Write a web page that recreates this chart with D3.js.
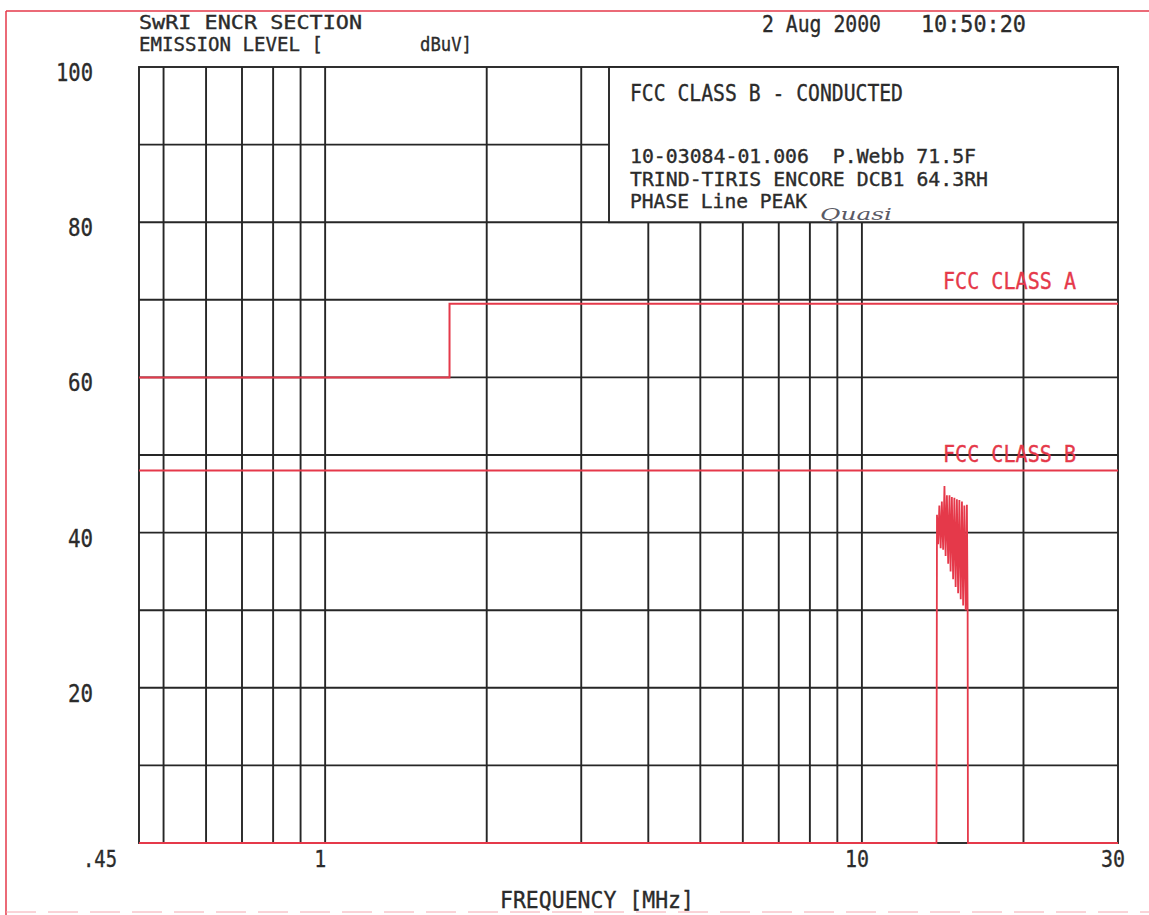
<!DOCTYPE html>
<html lang="en">

<head>
    <meta charset="UTF-8">
    <title>FCC Class B - Conducted</title>
    <script src="https://d3js.org/d3.v7.min.js"></script>
    <style>
        body {
            margin: 0;
            background: white;
        }

        text {
            font-family: "DejaVu Sans Mono", monospace;
            fill: #2b2b2b;
            stroke: #2b2b2b;
            stroke-width: 0.35px;
            white-space: pre;
        }

        .grid {
            stroke: #262626;
            stroke-width: 1.9px;
            fill: none;
        }

        .limit,
        .trace {
            stroke: #e5394a;
            fill: none;
        }

        text.red-label {
            fill: #e5394a;
            stroke: #e5394a;
        }
    </style>
</head>

<body>
    <svg width="1149" height="915"></svg>

    <script>
        // limits + measured trace (MHz / dBuV)
        const gridFreqs = [0.5, 0.6, 0.7, 0.8, 0.9, 1, 2, 3, 4, 5, 6, 7, 8, 9, 10, 20];
        const gridLevels = [10, 20, 30, 40, 50, 60, 70, 80, 90];
        const yTickLabels = [100, 80, 60, 40, 20];
        const xTickFreqs = [0.45, 1, 10, 30];
        const xTickLabels = [".45", "1", "10", "30"];

        const classAFreq = [0.45, 1.705, 1.705, 30];
        const classALevel = [60, 60, 69.5, 69.5];
        const classBFreq = [0.45, 30];
        const classBLevel = [48, 48];

        const traceFreq = [0.45, 13.77, 13.80, 13.87, 13.94, 14.02, 14.09, 14.17, 14.25, 14.32, 14.40, 14.48,
            14.56, 14.63, 14.71, 14.79, 14.87, 14.95, 15.03, 15.11, 15.19, 15.28, 15.36, 15.44, 15.52, 15.61,
            15.69, 15.74, 15.76, 30];
        const traceLevel = [0, 0, 42.3, 38.5, 43.5, 38, 44, 37.8, 46, 37, 44.8, 36, 44.8, 35, 44.6, 34, 44.5,
            33, 44.3, 32.2, 44.2, 31.4, 44, 30.6, 43.5, 30, 43.6, 29.5, 0, 0];

        const infoLines = ["10-03084-01.006  P.Webb 71.5F", "TRIND-TIRIS ENCORE DCB1 64.3RH", "PHASE Line PEAK"];

        const plotLeft = 139, plotRight = 1118, plotTop = 67, plotBottom = 843;
        const svg = d3.select("svg");

        const x = d3.scaleLog().domain([0.45, 30]).range([plotLeft, plotRight]);
        const y = d3.scaleLinear().domain([0, 100]).range([plotBottom, plotTop]);

        // page edge of the scanned sheet
        svg.append("line").attr("x1", 6).attr("y1", 11).attr("x2", 1149).attr("y2", 11)
            .style("stroke", "#e5394a").style("stroke-width", 1.5);
        svg.append("line").attr("x1", 6).attr("y1", 11).attr("x2", 6).attr("y2", 915)
            .style("stroke", "#e5394a").style("stroke-width", 1.5);
        svg.append("line").attr("x1", 6).attr("y1", 912).attr("x2", 1149).attr("y2", 912)
            .style("stroke", "#f4a8b0").style("stroke-width", 1).style("stroke-dasharray", "30 12");

        const grid = svg.append("g");
        grid.selectAll(".v").data(gridFreqs).join("line")
            .attr("class", "grid")
            .attr("x1", d => x(d)).attr("x2", d => x(d))
            .attr("y1", plotTop).attr("y2", plotBottom);
        grid.selectAll(".h").data(gridLevels).join("line")
            .attr("class", "grid")
            .attr("x1", plotLeft).attr("x2", plotRight)
            .attr("y1", d => y(d)).attr("y2", d => y(d));
        grid.append("rect")
            .attr("class", "grid")
            .attr("x", plotLeft).attr("y", plotTop)
            .attr("width", plotRight - plotLeft).attr("height", plotBottom - plotTop);

        // info box sits on top of the grid, white filled
        const boxX = 609;
        svg.append("rect")
            .attr("x", boxX).attr("y", plotTop)
            .attr("width", plotRight - boxX).attr("height", y(80) - plotTop)
            .style("fill", "white").style("stroke", "#262626").style("stroke-width", 1.9);

        svg.append("text").attr("x", 630).attr("y", 101)
            .attr("font-size", 23).attr("textLength", 273).attr("lengthAdjust", "spacingAndGlyphs")
            .text("FCC CLASS B - CONDUCTED");
        const infoWidths = [346, 358, 177];
        svg.selectAll(".info").data(infoLines).join("text")
            .attr("x", 630).attr("y", (d, i) => 163 + i * 22.5)
            .attr("font-size", 19)
            .attr("textLength", (d, i) => infoWidths[i]).attr("lengthAdjust", "spacingAndGlyphs")
            .text(d => d);
        svg.append("text").attr("x", 820).attr("y", 220)
            .style("font-family", "'DejaVu Serif', serif").style("font-style", "italic")
            .style("fill", "#5a5a66").style("stroke", "none").attr("font-size", 17)
            .attr("textLength", 72).attr("lengthAdjust", "spacingAndGlyphs")
            .text("Quasi");

        // limit lines
        const line = d3.line().x(d => x(d[0])).y(d => y(d[1]));
        svg.append("path")
            .attr("class", "limit").style("stroke-width", 2)
            .attr("d", line(d3.zip(classAFreq, classALevel)));
        svg.append("path")
            .attr("class", "limit").style("stroke-width", 2)
            .attr("d", line(d3.zip(classBFreq, classBLevel)));

        svg.append("text").attr("class", "red-label")
            .attr("x", 943).attr("y", 289).attr("font-size", 23)
            .attr("textLength", 133).attr("lengthAdjust", "spacingAndGlyphs")
            .text("FCC CLASS A");
        svg.append("text").attr("class", "red-label")
            .attr("x", 943).attr("y", 462).attr("font-size", 23)
            .attr("textLength", 133).attr("lengthAdjust", "spacingAndGlyphs")
            .text("FCC CLASS B");

        // measured emission
        svg.append("path")
            .attr("class", "trace").style("stroke-width", 1.8)
            .attr("d", line(d3.zip(traceFreq, traceLevel)));

        // axis labels
        svg.selectAll(".ylab").data(yTickLabels).join("text")
            .attr("x", 93).attr("y", d => y(d) + 14)
            .attr("text-anchor", "end").attr("font-size", 24)
            .attr("textLength", d => d === 100 ? 37 : 25).attr("lengthAdjust", "spacingAndGlyphs")
            .text(d => d);
        svg.selectAll(".xlab").data(xTickFreqs).join("text")
            .attr("x", (d, i) => i === 0 ? x(d) - 22 : x(d) - 5)
            .attr("y", 867)
            .attr("text-anchor", (d, i) => i === 0 ? "end" : "middle")
            .attr("font-size", 23)
            .attr("textLength", (d, i) => i === 0 ? 34 : xTickLabels[i].length * 12).attr("lengthAdjust", "spacingAndGlyphs")
            .text((d, i) => xTickLabels[i]);

        svg.append("text").attr("x", 500).attr("y", 908)
            .attr("font-size", 23).attr("textLength", 194).attr("lengthAdjust", "spacingAndGlyphs")
            .text("FREQUENCY [MHz]");

        // header
        svg.append("text").attr("x", 139).attr("y", 29)
            .attr("font-size", 19).attr("textLength", 223).attr("lengthAdjust", "spacingAndGlyphs")
            .text("SwRI ENCR SECTION");
        svg.append("text").attr("x", 139).attr("y", 51)
            .attr("font-size", 19).attr("textLength", 184).attr("lengthAdjust", "spacingAndGlyphs")
            .text("EMISSION LEVEL [");
        svg.append("text").attr("x", 420).attr("y", 51)
            .attr("font-size", 19).attr("textLength", 52).attr("lengthAdjust", "spacingAndGlyphs")
            .text("dBuV]");
        svg.append("text").attr("x", 762).attr("y", 32)
            .attr("font-size", 23).attr("textLength", 119).attr("lengthAdjust", "spacingAndGlyphs")
            .text("2 Aug 2000");
        svg.append("text").attr("x", 921).attr("y", 32)
            .attr("font-size", 23).attr("textLength", 105).attr("lengthAdjust", "spacingAndGlyphs")
            .text("10:50:20");
    </script>
</body>

</html>
